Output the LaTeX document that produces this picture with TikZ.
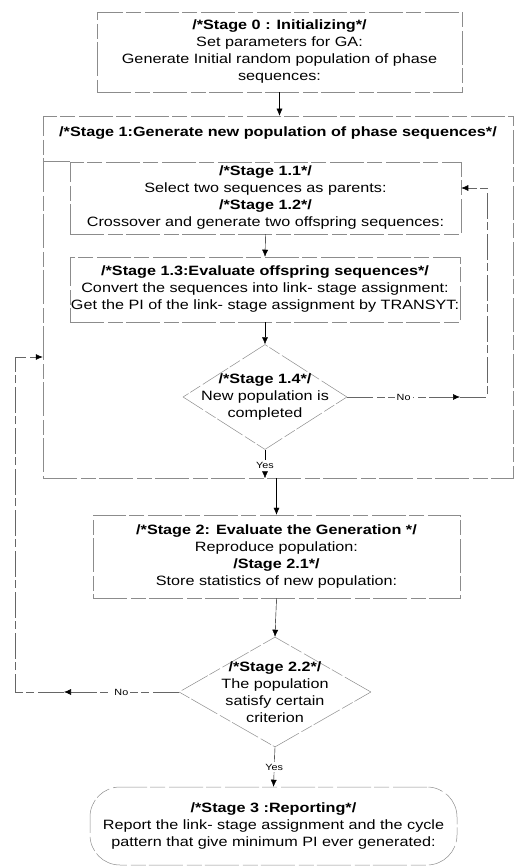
\documentclass[tikz,border=0pt]{standalone}
\usepackage{fontspec}
\setmainfont{Liberation Sans}[FakeStretch=1.2]
\usetikzlibrary{arrows.meta,shapes.geometric,positioning}

\tikzset{
  txt/.style={align=center,font=\fontsize{13.5}{17}\selectfont,inner sep=0pt},
  box/.style={txt,draw=black!45,line width=.5pt,
    dash pattern=on 34pt off 4pt on 15pt off 3pt},
  dia/.style={diamond,draw=black!45,line width=.5pt,inner sep=0pt,
    dash pattern=on 30pt off 3pt on 12pt off 2pt},
  loopline/.style={draw=black!60,line width=.6pt,
    dash pattern=on 26pt off 4pt on 8pt off 3pt},
  lbl/.style={font=\fontsize{9}{10}\selectfont,fill=white,inner sep=2pt}
}

\begin{document}
\begin{tikzpicture}[x=1pt,y=-1pt,>={Latex[length=7pt,width=6pt,color=black]}]
\useasboundingbox (0,0) rectangle (529,866);
%\draw[help lines] (0,0) grid[step=50] (529,866);
% Stage 0
\node[box,minimum width=365pt,minimum height=80pt] (s0) at (279.5,52)
  {\textbf{/*Stage 0 : Initializing*/}\\Set parameters for GA:\\
   Generate Initial random population of phase\\sequences:};
% Stage 1, outer box and header
\node[box,minimum width=470pt,minimum height=362pt] (s1) at (278,297) {};
\node[txt] (h1) at (278,133)
  {\textbf{/*Stage 1:Generate new population of phase sequences*/}};
\node[box,minimum width=391pt,minimum height=72pt] (s11) at (265.5,198)
  {\textbf{/*Stage 1.1*/}\\Select two sequences as parents:\\
   \textbf{/*Stage 1.2*/}\\Crossover and generate two offspring sequences:};
\draw[box] (s1.west |- s11.north) -- (s11.north west);
\node[box,minimum width=390pt,minimum height=65pt] (s13) at (265,289.5)
  {\textbf{/*Stage 1.3:Evaluate offspring sequences*/}\\
   Convert the sequences into link- stage assignment:\\
   Get the PI of the link- stage assignment by TRANSYT:};
\node[dia,minimum width=164pt,minimum height=105pt] (d14) at (265,397) {};
\node[txt] (t14) at (d14) {\textbf{/*Stage 1.4*/}\\New population is\\completed};
% Stage 2
\node[box,minimum width=367pt,minimum height=83pt] (s2) at (276.5,556.5)
  {\textbf{/*Stage 2: Evaluate the Generation */}\\Reproduce population:\\
   \textbf{/Stage 2.1*/}\\Store statistics of new population:};
\node[dia,minimum width=192pt,minimum height=110pt] (d22) at (275,692) {};
\node[txt] (t22) at (d22) {\textbf{/*Stage 2.2*/}\\The population\\satisfy certain\\criterion};
% Stage 3
\node[box,rounded corners=30pt,minimum width=367pt,minimum height=78pt] (s3) at (273.5,826)
  {\textbf{/*Stage 3 :Reporting*/}\\
   Report the link- stage assignment and the cycle\\
   pattern that give minimum PI ever generated:};
%
\draw[->] (s0.south) -- (s0.south |- s1.north);
\draw[->] (s11.south) -- (s13.north);
\draw[->] (s13.south) -- (d14.north);
\draw[->] (d14.south) -- node[lbl,pos=.55]{Yes} (d14.south |- s1.south);
\draw[->] (s1.south -| s2) -- (s2.north);
\draw[->] (s2.south) -- (d22.north);
\draw[->] (d22.south) -- node[lbl,pos=.5]{Yes} (s3.north);
% loop back when not completed
\coordinate (no14a) at (460,397);
\coordinate (no14b) at (487,397);
\coordinate (no14c) at (487,188);
\draw[loopline,->] (d14.east) -- node[lbl]{No} (no14a);
\draw[loopline,->] (no14a) -- (no14b) -- (no14c) -- (s11.east |- no14c);
% loop back when criterion not met
\coordinate (no22a) at (64,692);
\coordinate (no22b) at (15,692);
\coordinate (no22c) at (15,357);
\draw[loopline,->] (d22.west) -- node[lbl]{No} (no22a);
\draw[loopline,->] (no22a) -- (no22b) -- (no22c) -- (no22c -| s1.west);
\end{tikzpicture}
\end{document}
